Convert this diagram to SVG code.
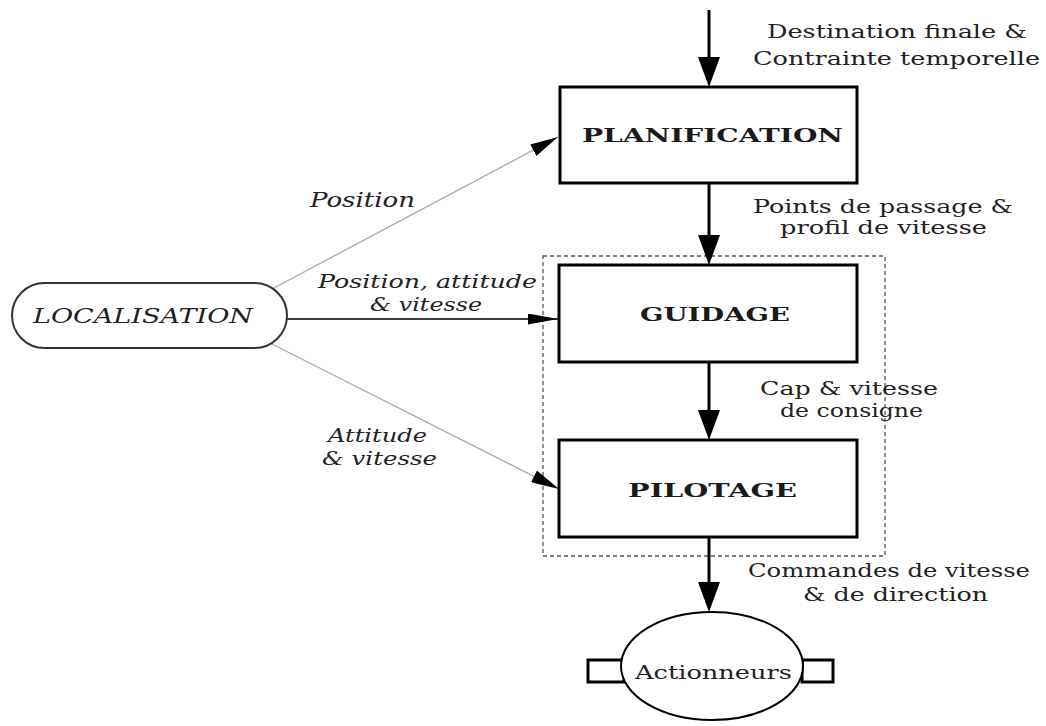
<svg xmlns="http://www.w3.org/2000/svg" width="1046" height="726" viewBox="0 0 1046 726">
<style>
.lbl{font-family:"DejaVu Serif","Liberation Serif",serif;font-size:19px;fill:#222;}
.it{font-family:"DejaVu Serif","Liberation Serif",serif;font-style:italic;font-size:20px;fill:#222;}
.it2{font-family:"DejaVu Serif","Liberation Serif",serif;font-style:italic;font-size:19px;fill:#222;}
.bold{font-family:"DejaVu Serif","Liberation Serif",serif;font-weight:bold;font-size:19px;fill:#1a1a1a;}
.box{fill:#fff;stroke:#000;stroke-width:3;}
.thick{stroke:#000;stroke-width:3;fill:none;}
.gray{stroke:#aaa;stroke-width:1.3;fill:none;}
.thin{stroke:#000;stroke-width:1.5;fill:none;}
</style>
<defs>
<marker id="big" viewBox="0 0 30 22" refX="20" refY="11" markerWidth="30" markerHeight="22" markerUnits="userSpaceOnUse" orient="auto">
<path d="M0,0 L30,11 L0,22 z" fill="#000"/>
</marker>
<marker id="side" viewBox="0 0 28 13" refX="28" refY="6.5" markerWidth="28" markerHeight="13" markerUnits="userSpaceOnUse" orient="auto">
<path d="M0,0 L28,6.5 L0,13 z" fill="#000"/>
</marker>
<marker id="small" viewBox="0 0 30 11" refX="30" refY="5.5" markerWidth="30" markerHeight="11" markerUnits="userSpaceOnUse" orient="auto">
<path d="M0,0 L30,5.5 L0,11 z" fill="#000"/>
</marker>
</defs>

<g id="group-dashed">
<rect x="543" y="256" width="342" height="300" fill="none" stroke="#555" stroke-width="1.3" stroke-dasharray="4,3"/>
</g>

<g id="connectors">
<line class="thick" x1="709" y1="10" x2="709" y2="77" marker-end="url(#big)"/>
<line class="thick" x1="709" y1="183" x2="709" y2="255" marker-end="url(#big)"/>
<line class="thick" x1="709" y1="362" x2="709" y2="430" marker-end="url(#big)"/>
<line class="thick" x1="709" y1="537" x2="709" y2="602" marker-end="url(#big)"/>
<line class="gray" x1="272" y1="289" x2="558" y2="137" marker-end="url(#side)"/>
<line class="thin" x1="287" y1="319" x2="558" y2="319" marker-end="url(#small)"/>
<line class="gray" x1="272" y1="344" x2="559" y2="489" marker-end="url(#side)"/>
<text class="lbl" x="767" y="38" textLength="260" lengthAdjust="spacingAndGlyphs">Destination finale &amp;</text>
<text class="lbl" x="753" y="65" textLength="287" lengthAdjust="spacingAndGlyphs">Contrainte temporelle</text>
<text class="lbl" x="753" y="213" textLength="260" lengthAdjust="spacingAndGlyphs">Points de passage &amp;</text>
<text class="lbl" x="780" y="234" textLength="207" lengthAdjust="spacingAndGlyphs">profil de vitesse</text>
<text class="lbl" x="760" y="395" textLength="178" lengthAdjust="spacingAndGlyphs">Cap &amp; vitesse</text>
<text class="lbl" x="780" y="417" textLength="143" lengthAdjust="spacingAndGlyphs">de consigne</text>
<text class="lbl" x="748" y="577" textLength="282" lengthAdjust="spacingAndGlyphs">Commandes de vitesse</text>
<text class="lbl" x="803" y="601" textLength="185" lengthAdjust="spacingAndGlyphs">&amp; de direction</text>
<text class="it" x="310" y="207" textLength="105" lengthAdjust="spacingAndGlyphs">Position</text>
<text class="it2" x="318" y="288" textLength="219" lengthAdjust="spacingAndGlyphs">Position, attitude</text>
<text class="it2" x="370" y="311" textLength="112" lengthAdjust="spacingAndGlyphs">&amp; vitesse</text>
<text class="it2" x="328" y="442" textLength="99" lengthAdjust="spacingAndGlyphs">Attitude</text>
<text class="it2" x="322" y="465" textLength="115" lengthAdjust="spacingAndGlyphs">&amp; vitesse</text>
</g>

<g id="planification">
<rect class="box" x="560" y="87" width="297" height="96"/>
<text class="bold" x="582" y="142" textLength="261" lengthAdjust="spacingAndGlyphs">PLANIFICATION</text>
</g>

<g id="guidage">
<rect class="box" x="559" y="265" width="298" height="97"/>
<text class="bold" x="640" y="321" textLength="150" lengthAdjust="spacingAndGlyphs">GUIDAGE</text>
</g>

<g id="pilotage">
<rect class="box" x="559" y="440" width="298" height="97"/>
<text class="bold" x="628" y="497" textLength="169" lengthAdjust="spacingAndGlyphs">PILOTAGE</text>
</g>

<g id="localisation">
<rect x="12" y="283" width="275" height="65" rx="32.5" ry="32.5" fill="#fff" stroke="#333" stroke-width="2"/>
<text class="it" x="33" y="323" textLength="220" lengthAdjust="spacingAndGlyphs">LOCALISATION</text>
</g>

<g id="actionneurs">
<rect x="588" y="660" width="36" height="22" fill="#fff" stroke="#000" stroke-width="3"/>
<rect x="802" y="660" width="31" height="22" fill="#fff" stroke="#000" stroke-width="3"/>
<ellipse cx="712" cy="666" rx="91" ry="54" fill="#fff" stroke="#000" stroke-width="2"/>
<text class="lbl" x="635" y="679" font-size="20" textLength="157" lengthAdjust="spacingAndGlyphs">Actionneurs</text>
</g>
</svg>
